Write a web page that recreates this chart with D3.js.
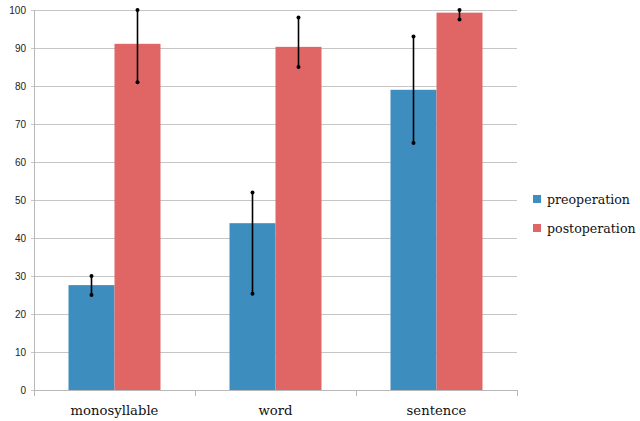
<!DOCTYPE html>
<html><head><meta charset="utf-8">
<script src="https://cdn.jsdelivr.net/npm/d3@7"></script>
<style>body{margin:0;background:#fff;} svg{display:block;} .serif{font-family:'DejaVu Serif',serif;}</style>
</head><body>
<script>
const categories = ["monosyllable", "word", "sentence"];
const seriesNames = ["preoperation", "postoperation"];
const preValues = [27.6, 43.9, 79.0];
const postValues = [91.1, 90.3, 99.3];
const preErrLow = [25, 25.3, 65];
const preErrHigh = [30, 52, 93];
const postErrLow = [81, 85, 97.5];
const postErrHigh = [100, 98, 100];
const yTicks = [0,10,20,30,40,50,60,70,80,90,100];
const colors = ["#3d8ebf", "#e06666"];

(function(){
const W = 640, H = 421;
const svg = d3.select("body").append("svg").attr("width", W).attr("height", H);
const pl = 34, pr = 517, pt = 10, pb = 390;

const x = d3.scaleBand().domain(categories).range([pl, pr]).paddingInner(0).paddingOuter(0);
const y = d3.scaleLinear().domain([0, 100]).range([pb, pt]);
const xs = d3.scaleBand().domain(seriesNames).range([0, x.bandwidth()]).paddingOuter(0.75).paddingInner(0);

svg.append("g").selectAll("line").data(yTicks).join("line")
  .attr("x1", pl - 3).attr("x2", pr)
  .attr("y1", d => y(d) + 0.5).attr("y2", d => y(d) + 0.5)
  .attr("stroke", "#c6c6c6").attr("stroke-width", 1);

svg.append("g").selectAll("text").data(yTicks).join("text")
  .attr("x", pl - 8).attr("y", d => y(d) + 4)
  .attr("text-anchor", "end")
  .style("font-family", "'Liberation Sans', Arial, sans-serif")
  .attr("font-size", 10).attr("fill", "#222")
  .text(d => d);

const series = [
  {name: seriesNames[0], vals: preValues, lo: preErrLow, hi: preErrHigh, color: colors[0]},
  {name: seriesNames[1], vals: postValues, lo: postErrLow, hi: postErrHigh, color: colors[1]}
];
series.forEach(s => {
  svg.append("g").selectAll("rect").data(categories).join("rect")
    .attr("x", c => x(c) + xs(s.name))
    .attr("width", xs.bandwidth())
    .attr("y", (c, i) => y(s.vals[i]))
    .attr("height", (c, i) => y(0) - y(s.vals[i]))
    .attr("fill", s.color);
});

svg.append("line").attr("x1", pl + 0.5).attr("x2", pl + 0.5).attr("y1", pt).attr("y2", pb + 6)
  .attr("stroke", "#b8b8b8");
svg.append("line").attr("x1", pl).attr("x2", pr).attr("y1", pb + 0.5).attr("y2", pb + 0.5)
  .attr("stroke", "#b8b8b8");
const tickXs = categories.map(c => x(c)).concat([x(categories[categories.length-1]) + x.bandwidth()]);
svg.append("g").selectAll("line").data(tickXs).join("line")
  .attr("x1", d => Math.round(d) + 0.5).attr("x2", d => Math.round(d) + 0.5)
  .attr("y1", pb).attr("y2", pb + 6).attr("stroke", "#b8b8b8");

series.forEach(s => {
  const g = svg.append("g");
  categories.forEach((c, i) => {
    const cx = x(c) + xs(s.name) + xs.bandwidth() / 2;
    g.append("line").attr("x1", cx).attr("x2", cx)
      .attr("y1", y(s.lo[i])).attr("y2", y(s.hi[i]))
      .attr("stroke", "#000").attr("stroke-width", 1.6);
    [s.lo[i], s.hi[i]].forEach(v => {
      g.append("circle").attr("cx", cx).attr("cy", y(v)).attr("r", 2).attr("fill", "#000");
    });
  });
});

svg.append("g").selectAll("text").data(categories).join("text")
  .attr("class", "serif")
  .attr("x", c => x(c) + x.bandwidth() / 2).attr("y", 415)
  .attr("text-anchor", "middle")
  .attr("font-size", 13.2).attr("fill", "#111")
  .text(c => c);

const lg = svg.append("g");
series.forEach((s, i) => {
  lg.append("rect").attr("x", 533).attr("y", 195 + i * 29).attr("width", 8).attr("height", 8).attr("fill", s.color);
  lg.append("text").attr("class", "serif").attr("x", 547).attr("y", 204 + i * 29)
    .attr("font-size", 12.6).attr("fill", "#111")
    .text(s.name);
});
})();
</script>
</body></html>
